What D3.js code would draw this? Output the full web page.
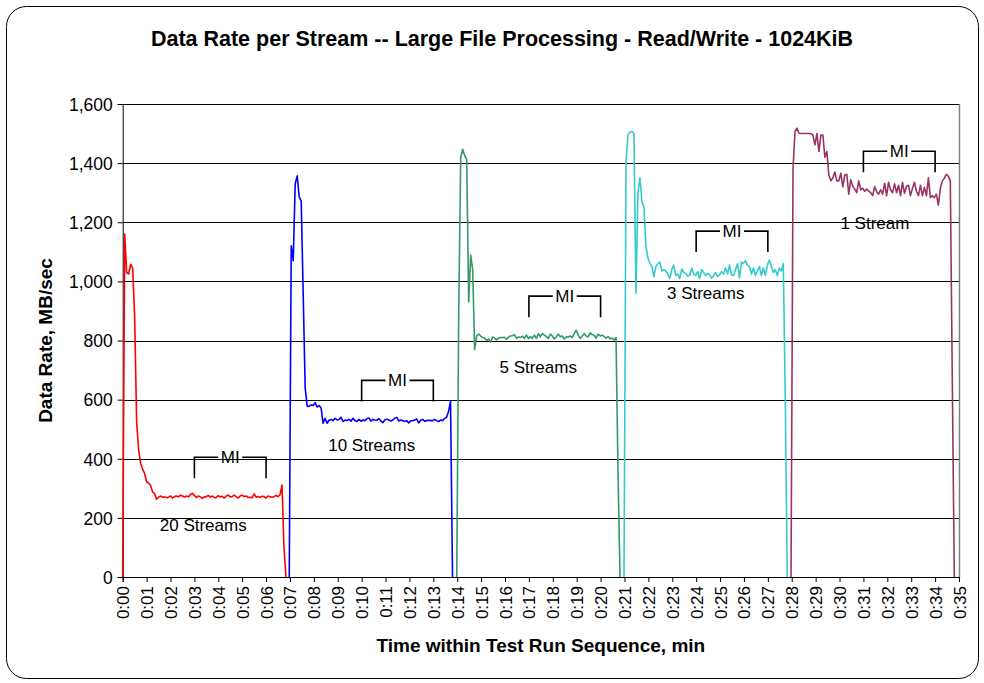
<!DOCTYPE html>
<html>
<head>
<meta charset="utf-8">
<script src="https://cdn.jsdelivr.net/npm/d3@7"></script>
<style>
  html, body { margin: 0; padding: 0; background: #fff; }
  svg { display: block; }
  text { font-family: Arial, "Liberation Sans", sans-serif; fill: #000; }
</style>
</head>
<body>
<svg id="chart" width="984" height="683"></svg>
<script>
// ---------------- DATA ----------------
const chartTitle = "Data Rate per Stream -- Large File Processing - Read/Write - 1024KiB";
const xAxisTitle = "Time within Test Run Sequence, min";
const yAxisTitle = "Data Rate, MB/sec";

const xTickLabels = ["0:00","0:01","0:02","0:03","0:04","0:05","0:06","0:07","0:08","0:09",
  "0:10","0:11","0:12","0:13","0:14","0:15","0:16","0:17","0:18","0:19","0:20","0:21",
  "0:22","0:23","0:24","0:25","0:26","0:27","0:28","0:29","0:30","0:31","0:32","0:33",
  "0:34","0:35"];
const yTickValues = [0, 200, 400, 600, 800, 1000, 1200, 1400, 1600];

const seriesNames = ["20 Streams", "10 Streams", "5 Streams", "3 Streams", "1 Stream"];
const seriesColors = ["#ff0000", "#0000ff", "#339966", "#33cccc", "#993366"];
const seriesStartMin = [0, 6.97, 13.98, 20.98, 27.97];   // run start, minutes
const sampleSeconds = 5;                                  // sample interval

const rate20 = [0,1160,1030,1025,1058,1045,880,525,430,385,365,350,322,318,310,288,282,263,
  270,274,270,271,268,270,274,267,272,274,271,277,274,270,274,271,279,283,276,269,274,271,
  266,271,272,276,270,274,268,269,275,271,273,267,274,277,271,272,277,272,267,274,277,272,
  274,269,270,268,281,270,272,270,273,272,267,274,271,270,272,276,272,278,311,100,0];
const rate10 = [0,1120,1070,1330,1357,1285,1272,960,640,578,577,582,580,590,575,580,572,520,
  537,520,530,533,529,537,531,533,540,526,531,529,533,527,537,529,526,533,527,531,529,535,
  538,527,533,531,530,536,528,522,531,534,531,528,531,537,540,528,531,529,526,529,521,528,
  529,531,535,521,530,533,527,529,530,529,529,533,529,526,531,529,536,540,560,595,0];
const rate5 = [0,900,1420,1447,1425,1413,930,1089,1040,770,
  815,822,815,810,808,800,805,795,812,808,802,808,810,810,811,804,812,815,816,820,
  807,812,810,815,807,818,806,813,807,818,807,823,812,823,818,813,807,822,815,805,
  813,822,813,815,805,813,812,815,810,824,835,818,807,815,823,815,812,826,820,818,
  808,822,815,818,814,808,813,806,808,802,810,350,0];
const rate3 = [0,1400,1495,1505,1507,1500,960,1300,1350,1270,1250,1120,1080,1061,1050,1016,
  1050,1060,1065,1035,1040,1035,1025,1010,1040,1055,1020,1025,1010,1042,1030,1027,1017,1021,
  1045,1025,1020,1033,1010,1040,1030,1020,1027,1022,1010,1020,1030,1016,1022,1033,1025,1045,
  1025,1055,1022,1020,1040,1060,1012,1065,1060,1070,1055,1050,1025,1045,1020,1035,1050,1020,
  1045,1020,1055,1072,1050,1030,1040,1020,1045,1035,1060,600,0];
const rate1 = [0,1380,1507,1518,1501,1500,1500,1500,1500,1500,1500,1495,1462,1500,1440,1495,
  1495,1420,1439,1360,1340,1350,1370,1340,1340,1366,1320,1360,1362,1295,1344,1322,1312,1300,
  1340,1310,1315,1305,1312,1305,1300,1290,1321,1303,1295,1310,1295,1332,1290,1335,1310,1300,
  1330,1300,1325,1290,1335,1298,1322,1325,1290,1315,1335,1305,1290,1325,1290,1318,1290,1350,
  1283,1290,1283,1295,1258,1315,1340,1349,1362,1356,1340,660,0];
const seriesValues = [rate20, rate10, rate5, rate3, rate1];

// stream labels (position in data units: minutes, MB/sec)
const labelMin = [3.37, 10.42, 17.39, 24.40, 31.48];
const labelRate = [176, 446, 711, 960, 1196];

// "MI" measurement-interval brackets
const miStartMin = [3, 10, 17, 24, 31];
const miEndMin = [6, 13, 20, 27, 34];
const miRate = [405, 665, 950, 1170, 1440];
const miText = "MI";

// ---------------- LAYOUT ----------------
const svg = d3.select("#chart");
const plot = { left: 122.7, right: 959, top: 104, bottom: 577 };

const x = d3.scaleLinear().domain([0, 35]).range([plot.left, plot.right]);
const y = d3.scaleLinear().domain([0, 1600]).range([plot.bottom, plot.top]);

// outer frame
svg.append("rect")
  .attr("x", 6.5).attr("y", 6.5).attr("width", 972).attr("height", 672)
  .attr("rx", 20).attr("ry", 20)
  .attr("fill", "#fff").attr("stroke", "#000").attr("stroke-width", 1);

// title
svg.append("text")
  .attr("x", 502).attr("y", 46)
  .attr("text-anchor", "middle")
  .style("font-size", "21.5px").style("font-weight", "bold")
  .text(chartTitle);

// gridlines
svg.append("g")
  .selectAll("line").data(yTickValues.filter(v => v > 0)).join("line")
  .attr("x1", plot.left).attr("x2", plot.right)
  .attr("y1", d => Math.round(y(d)) + 0.5).attr("y2", d => Math.round(y(d)) + 0.5)
  .attr("stroke", "#000").attr("stroke-width", 1);

// right border of plot area
svg.append("line")
  .attr("x1", plot.right + 0.5).attr("x2", plot.right + 0.5)
  .attr("y1", plot.top).attr("y2", plot.bottom)
  .attr("stroke", "#808080").attr("stroke-width", 1.5);

// y axis
const yAxis = d3.axisLeft(y).tickValues(yTickValues).tickSize(5).tickPadding(5)
  .tickFormat(d3.format(","));
const gy = svg.append("g").attr("transform", `translate(${plot.left},0)`).call(yAxis);
gy.select(".domain").attr("stroke", "#000");
gy.selectAll(".tick line").attr("stroke", "#000");
gy.selectAll(".tick text")
  .style("font-size", "17.5px").style("font-family", "Arial, 'Liberation Sans', sans-serif")
  .attr("dy", "0.36em");

// x axis
const xAxis = d3.axisBottom(x).tickValues(d3.range(xTickLabels.length)).tickSize(5)
  .tickFormat((d, i) => xTickLabels[i]);
const gx = svg.append("g").attr("transform", `translate(0,${plot.bottom})`).call(xAxis);
gx.select(".domain").attr("stroke", "#000");
gx.selectAll(".tick line").attr("stroke", "#000");
gx.selectAll(".tick text")
  .style("font-size", "17px").style("font-family", "Arial, 'Liberation Sans', sans-serif")
  .attr("text-anchor", "end")
  .attr("dy", null)
  .attr("transform", "translate(6,9) rotate(-90)")
  .attr("x", 0).attr("y", 0);

// axis titles
svg.append("text")
  .attr("x", (plot.left + plot.right) / 2).attr("y", 652)
  .attr("text-anchor", "middle")
  .style("font-size", "19px").style("font-weight", "bold")
  .text(xAxisTitle);
svg.append("text")
  .attr("transform", `translate(52,${(plot.top + plot.bottom) / 2}) rotate(-90)`)
  .attr("text-anchor", "middle")
  .style("font-size", "19px").style("font-weight", "bold")
  .text(yAxisTitle);

// series lines
const line = d3.line()
  .x(d => x(d.t))
  .y(d => y(d.v));
seriesValues.forEach((vals, s) => {
  const pts = vals.map((v, i) => ({ t: seriesStartMin[s] + i * sampleSeconds / 60, v }));
  svg.append("path")
    .datum(pts)
    .attr("d", line)
    .attr("fill", "none")
    .attr("stroke", seriesColors[s])
    .attr("stroke-width", 1.6)
    .attr("stroke-linejoin", "round");
});

// stream labels
svg.append("g").selectAll("text").data(seriesNames).join("text")
  .attr("x", (d, i) => x(labelMin[i]))
  .attr("y", (d, i) => y(labelRate[i]) + 6)
  .attr("text-anchor", "middle")
  .style("font-size", "17px")
  .text(d => d);

// MI brackets
const legPx = 21;
miStartMin.forEach((m0, i) => {
  const x0 = x(m0), x1 = x(miEndMin[i]), yy = y(miRate[i]);
  const xm = (x0 + x1) / 2;
  const gap = 12;
  const g = svg.append("g").attr("stroke", "#000").attr("stroke-width", 1.6).attr("fill", "none");
  g.append("path").attr("d", `M${x0},${yy + legPx}V${yy}H${xm - gap}`);
  g.append("path").attr("d", `M${x1},${yy + legPx}V${yy}H${xm + gap}`);
  svg.append("text")
    .attr("x", xm).attr("y", yy + 6)
    .attr("text-anchor", "middle")
    .style("font-size", "17px")
    .text(miText);
});
</script>
</body>
</html>
